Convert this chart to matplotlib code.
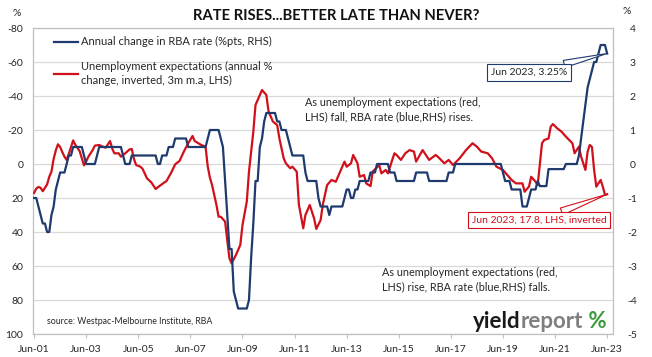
import matplotlib
matplotlib.use("Agg")
import matplotlib.pyplot as plt
import numpy as np

FONT = "Lato"
plt.rcParams["font.family"] = [FONT, "DejaVu Sans"]

# ---- data -------------------------------------------------------------
# Annual change in RBA cash rate (%pts, RHS), monthly, Jun 2001 .. Jun 2023
rba_2001 = [-1.00, -1.00, -1.25, -1.50, -1.75, -1.75, -2.00]            # Jun-Dec
rba_2002 = [-2.00, -1.50, -1.25, -0.75, -0.50, -0.25, -0.25, -0.25, 0.00, 0.25, 0.25, 0.50]
rba_2003 = [0.50, 0.50, 0.50, 0.50, 0.25, 0.00, 0.00, 0.00, 0.00, 0.00, 0.25, 0.50]
rba_2004 = [0.50, 0.50, 0.50, 0.50, 0.50, 0.50, 0.50, 0.50, 0.50, 0.50, 0.25, 0.00]
rba_2005 = [0.00, 0.00, 0.25, 0.25, 0.25, 0.25, 0.25, 0.25, 0.25, 0.25, 0.25, 0.25]
rba_2006 = [0.25, 0.25, 0.00, 0.00, 0.25, 0.25, 0.25, 0.50, 0.50, 0.50, 0.75, 0.75]
rba_2007 = [0.75, 0.75, 0.75, 0.75, 0.50, 0.50, 0.50, 0.50, 0.50, 0.50, 0.50, 0.50]
rba_2008 = [0.50, 0.75, 1.00, 1.00, 1.00, 1.00, 1.00, 0.75, 0.50, -0.50, -1.50, -2.50]
rba_2009 = [-2.50, -3.75, -4.00, -4.25, -4.25, -4.25, -4.25, -4.25, -4.00, -2.75, -1.75, -0.50]
rba_2010 = [-0.50, 0.50, 0.75, 1.25, 1.50, 1.50, 1.50, 1.50, 1.50, 1.25, 1.25, 1.00]
rba_2011 = [1.00, 1.00, 0.75, 0.50, 0.25, 0.25, 0.25, 0.25, 0.25, 0.25, -0.25, -0.50]
rba_2012 = [-0.50, -0.50, -0.50, -0.50, -1.00, -1.25, -1.25, -1.25, -1.25, -1.50, -1.25, -1.25]
rba_2013 = [-1.25, -1.25, -1.25, -1.25, -1.00, -0.75, -0.75, -1.00, -1.00, -0.75, -0.75, -0.50]
rba_2014 = [-0.50, -0.50, -0.50, -0.50, -0.25, -0.25, -0.25, 0.00, 0.00, 0.00, 0.00, 0.00]
rba_2015 = [0.00, -0.25, -0.25, -0.25, -0.50, -0.50, -0.50, -0.50, -0.50, -0.50, -0.50, -0.50]
rba_2016 = [-0.50, -0.25, -0.25, -0.25, -0.25, -0.25, -0.25, -0.50, -0.50, -0.50, -0.50, -0.50]
rba_2017 = [-0.50, -0.50, -0.50, -0.50, -0.25, -0.25, -0.25, 0.00, 0.00, 0.00, 0.00, 0.00]
rba_2018 = [0.00, 0.00, 0.00, 0.00, 0.00, 0.00, 0.00, 0.00, 0.00, 0.00, 0.00, 0.00]
rba_2019 = [0.00, 0.00, 0.00, 0.00, 0.00, -0.25, -0.50, -0.50, -0.50, -0.75, -0.75, -0.75]
rba_2020 = [-0.75, -0.75, -1.25, -1.25, -1.25, -1.00, -0.75, -0.75, -0.75, -0.50, -0.65, -0.65]
rba_2021 = [-0.65, -0.65, -0.15, -0.15, -0.15, -0.15, -0.15, -0.15, -0.15, -0.15, 0.00, 0.00]
rba_2022 = [0.00, 0.00, 0.00, 0.00, 0.25, 0.75, 1.25, 1.75, 2.25, 2.50, 2.75, 3.00]
rba_2023 = [3.00, 3.25, 3.50, 3.50, 3.50, 3.25]                          # Jan-Jun

rba_change = (rba_2001 + rba_2002 + rba_2003 + rba_2004 + rba_2005 + rba_2006
              + rba_2007 + rba_2008 + rba_2009 + rba_2010 + rba_2011 + rba_2012
              + rba_2013 + rba_2014 + rba_2015 + rba_2016 + rba_2017 + rba_2018
              + rba_2019 + rba_2020 + rba_2021 + rba_2022 + rba_2023)

# Unemployment expectations (annual % change, inverted, 3m m.a., LHS)
# months since Jun 2001, value
unemp_months = [0, 1, 2, 3, 4, 5, 6, 7, 8, 9, 10, 11, 12, 13, 14, 15, 16, 17, 18, 19,
                20, 21, 22, 23, 24, 25, 27, 28, 30, 32, 33, 35, 36, 37, 39, 40, 42, 44, 45, 46,
                47, 49, 50, 52, 54, 56, 58, 61, 63, 65, 67, 69, 71, 73, 74, 77, 79, 80, 81, 82,
                84, 85, 86, 88, 89, 90, 91, 93, 95, 96, 98, 99, 101, 102, 104, 105, 107, 108, 110, 112,
                113, 115, 116, 118, 119, 121, 122, 124, 125, 127, 129, 130, 132, 133, 135, 137, 139, 141, 143, 144,
                146, 147, 149, 150, 152, 153, 155, 156, 159, 160, 162, 163, 166, 167, 169, 171, 173, 175, 176, 179,
                180, 182, 185, 186, 189, 191, 193, 196, 199, 202, 204, 206, 209, 211, 213, 216, 218, 220, 222, 225,
                226, 228, 229, 231, 232, 234, 235, 237, 238, 239, 241, 243, 245, 248, 249, 251, 252, 254, 255, 256,
                257, 258, 259, 261, 262, 263, 264]
unemp_values = [17.0, 14.5, 13.5, 14.0, 16.0, 14.0, 12.0, 7.5, 4.5, -3.0, -8.0, -11.6, -10.0, -7.0, -4.3, -2.4, -6.0, -10.0, -13.9, -11.2,
                -9.5, -7.5, -3.3, 0.8, -1.5, -4.3, -8.2, -10.8, -11.2, -10.0, -9.6, -13.5, -9.0, -6.3, -6.3, -4.3, -6.3, -8.6, -8.8, -3.0,
                0.6, 1.6, 2.9, 8.4, 10.8, 14.7, 12.7, 10.0, 5.5, 0.2, -1.8, -7.3, -12.2, -16.5, -13.5, -11.2, -10.2, 1.5, 8.0, 12.4,
                24.0, 31.0, 31.0, 33.9, 45.0, 55.5, 58.4, 53.5, 47.6, 36.0, 22.0, 4.5, -19.0, -34.7, -40.6, -43.5, -40.6, -31.0, -25.0, -22.9,
                -15.1, -3.3, -0.4, 2.5, 1.6, 4.5, 24.0, 37.8, 30.0, 24.1, 32.0, 38.2, 33.0, 24.0, 12.4, 9.4, 10.4, 4.5, -1.4, 1.6,
                -0.4, -5.3, -0.4, 7.5, 6.5, 11.4, 13.0, 4.5, 0.6, 5.5, 3.5, 5.5, -6.3, -5.3, -2.4, -6.3, -8.2, -7.3, -1.4, -8.2,
                -6.3, -2.4, -5.3, -4.3, -0.4, -2.4, 0.6, -3.3, -8.2, -12.2, -10.2, -7.3, -6.3, -3.3, 1.6, 3.5, 6.5, 9.4, 11.4, 11.4,
                16.3, 13.3, 7.5, 10.4, 12.4, -12.2, -14.1, -15.0, -21.9, -23.5, -21.0, -19.0, -16.1, -12.2, -6.3, -10.2, -4.3, 3.5, -7.3, -11.2,
                -10.0, 3.5, 13.3, 9.4, 13.3, 18.2, 17.8]

x_tick_labels = ["Jun-01", "Jun-03", "Jun-05", "Jun-07", "Jun-09", "Jun-11",
                 "Jun-13", "Jun-15", "Jun-17", "Jun-19", "Jun-21", "Jun-23"]
left_ticks = [-80, -60, -40, -20, 0, 20, 40, 60, 80, 100]
right_ticks = [4, 3, 2, 1, 0, -1, -2, -3, -4, -5]

BLUE = "#1F3A6E"
RED = "#D0101A"
GRID = "#D9D9D9"
TXT = "#262626"

# ---- figure -----------------------------------------------------------
W, H = 652, 357
fig = plt.figure(figsize=(W / 100, H / 100), dpi=100)
L, R, T, B = 33, 613, 28, 334
ax = fig.add_axes([L / W, 1 - B / H, (R - L) / W, (B - T) / H])

months = np.arange(len(rba_change))
ax.set_xlim(-0.5, 266.7)
ax.set_ylim(100, -80)
ax.set_yticks(left_ticks)
ax.set_yticklabels([str(v) for v in left_ticks])
ax.set_xticks(np.arange(len(x_tick_labels)) * 24)
ax.set_xticklabels(x_tick_labels)
ax.grid(axis="y", color=GRID, lw=0.9)
ax.set_axisbelow(True)
for s in ax.spines.values():
    s.set_color("#BFBFBF")
    s.set_linewidth(0.9)
ax.tick_params(axis="y", length=0, pad=7, labelsize=7.5, labelcolor=TXT)
ax.tick_params(axis="x", length=3, width=0.8, color="#BFBFBF", pad=5, labelsize=7.5, labelcolor=TXT)

red_line, = ax.plot(unemp_months, unemp_values, color=RED, lw=1.6, zorder=3,
                    label="Unemployment expectations (annual %\nchange, inverted, 3m m.a, LHS)")

ax2 = ax.twinx()
ax2.set_ylim(-5, 4)
ax2.set_yticks(right_ticks)
ax2.set_yticklabels([str(v) for v in right_ticks])
for s in ax2.spines.values():
    s.set_visible(False)
ax2.tick_params(axis="y", length=0, pad=14, labelsize=7.5, labelcolor=TXT)
for lab in ax2.get_yticklabels():
    lab.set_horizontalalignment("center")
blue_line, = ax2.plot(months, rba_change, color=BLUE, lw=1.6, zorder=4,
                      label="Annual change in RBA rate (%pts, RHS)")

leg = ax2.legend(handles=[blue_line, red_line], loc="upper left",
                 bbox_to_anchor=(17 / (R - L), 1 - 4 / (B - T)),
                 frameon=False, fontsize=8, handlelength=2.1, handletextpad=0.25,
                 labelspacing=1.25, borderaxespad=0, labelcolor=TXT)
for t in leg.get_texts():
    t.set_linespacing(1.3)

# ---- texts --------------------------------------------------------------
def fx(px):
    return px / W

def fy(py):
    return 1 - py / H

fig.text(fx(336), fy(16), "RATE RISES...BETTER LATE THAN NEVER?", ha="center", va="center",
         fontsize=10.6, fontweight="bold", color="#111111")
fig.text(fx(17), fy(13), "%", ha="center", va="center", fontsize=7.5, color=TXT)
fig.text(fx(627), fy(12), "%", ha="center", va="center", fontsize=7.5, color=TXT)

fig.text(fx(305), fy(110), "As unemployment expectations (red,\nLHS) fall, RBA rate (blue,RHS) rises.",
         ha="left", va="center", fontsize=7.8, color=TXT, linespacing=1.35)
fig.text(fx(382), fy(280), "As unemployment expectations (red,\nLHS) rise, RBA rate (blue,RHS) falls.",
         ha="left", va="center", fontsize=7.8, color=TXT, linespacing=1.35)
fig.text(fx(47), fy(321), "source: Westpac-Melbourne Institute, RBA", ha="left", va="center",
         fontsize=6.3, color=TXT)

# logo
t1 = fig.text(fx(473), fy(328), "yield", ha="left", va="baseline", fontsize=16,
              fontweight="bold", color="#1A1A1A")
t2 = ax.annotate("report", xy=(1, 0), xycoords=t1, ha="left", va="bottom", fontsize=16,
                 fontweight="bold", color="#7F7F7F", annotation_clip=False)
t3 = ax.annotate(" %", xy=(1, 0), xycoords=t2, ha="left", va="bottom", fontsize=16,
                 fontweight="bold", color="#3C9A3C", annotation_clip=False)

# call-outs
ax2.annotate("Jun 2023, 3.25%", xy=(months[-1], rba_change[-1]), xycoords="data",
             xytext=(fx(529), fy(72.5)), textcoords="figure fraction",
             ha="center", va="center", fontsize=7.5, color=TXT,
             bbox=dict(boxstyle="square,pad=0.35", fc="white", ec=BLUE, lw=0.8),
             arrowprops=dict(arrowstyle="wedge,tail_width=0.7,shrink_factor=0.5", fc="white", ec=BLUE,
                             lw=0.8, shrinkA=0, shrinkB=0),
             annotation_clip=False, zorder=6)
ax.annotate("Jun 2023, 17.8, LHS, inverted", xy=(unemp_months[-1], unemp_values[-1]), xycoords="data",
            xytext=(fx(539), fy(220)), textcoords="figure fraction",
            ha="center", va="center", fontsize=7.5, color=RED,
            bbox=dict(boxstyle="square,pad=0.35", fc="white", ec=RED, lw=0.8),
            arrowprops=dict(arrowstyle="wedge,tail_width=0.7,shrink_factor=0.5", fc="white", ec=RED,
                            lw=0.8, shrinkA=0, shrinkB=0),
            annotation_clip=False, zorder=6)

fig.savefig("out.png", dpi=100)
